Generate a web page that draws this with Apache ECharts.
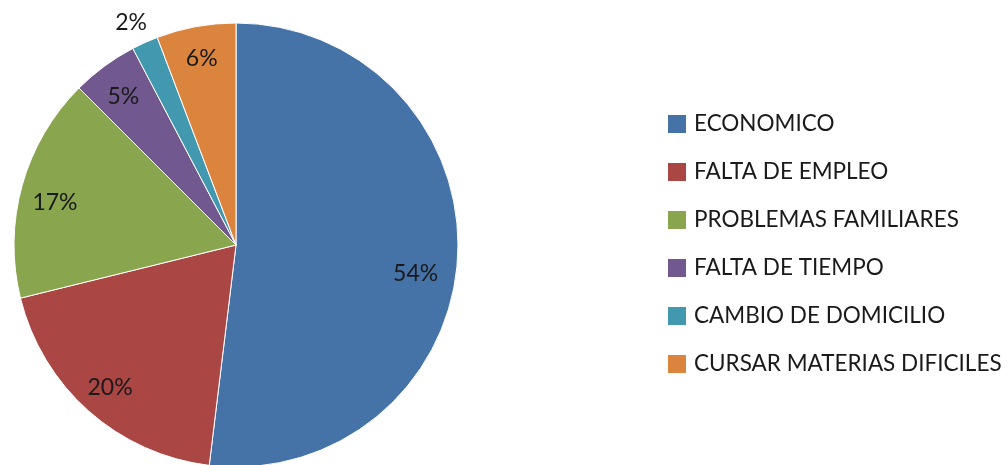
<!DOCTYPE html>
<html>
<head>
<meta charset="utf-8">
<script src="https://cdn.jsdelivr.net/npm/echarts@6/dist/echarts.min.js"></script>
<style>
html,body{margin:0;padding:0;background:#fff;}
#chart{width:1008px;height:465px;}
</style>
</head>
<body>
<div id="chart"></div>
<script>
var categories = ['ECONOMICO','FALTA DE EMPLEO','PROBLEMAS FAMILIARES','FALTA DE TIEMPO','CAMBIO DE DOMICILIO','CURSAR MATERIAS DIFICILES'];
var values = [54, 20, 17, 5, 2, 6];
var colors = ['#4572A7','#AA4643','#89A54E','#71588F','#4198AF','#DB843D'];
var outsideLabel = [false, false, false, false, true, false];

var FONT = 'Lato';
var FS = 23;

// small text nudges [dx, dy] to mimic Excel's best-fit label placement
var labelNudge = [[-10, 17], [0, 0], [2, 9], [0, 5], [-1, 8], [0, 0]];

function buildData(mode) {
  return categories.map(function (c, i) {
    var item = { name: c, value: values[i] };
    if (mode === 'pie') {
      item.itemStyle = { color: colors[i] };
    } else {
      var show = mode === 'inner' ? !outsideLabel[i] : outsideLabel[i];
      item.itemStyle = { color: 'rgba(0,0,0,0)', borderWidth: 0 };
      item.label = { show: show };
    }
    return item;
  });
}

function nudge(params) {
  var n = labelNudge[params.dataIndex] || [0, 0];
  return { dx: n[0], dy: n[1] };
}

var labelStyle = {
  position: 'inside',
  formatter: '{c}%',
  fontFamily: FONT,
  fontSize: FS,
  color: '#1a1a1a'
};

var chart = echarts.init(document.getElementById('chart'));
chart.setOption({
  animation: false,
  backgroundColor: '#fff',
  legend: {
    orient: 'vertical',
    left: 666,
    top: 112,
    padding: 0,
    icon: 'rect',
    itemWidth: 20,
    itemHeight: 20,
    itemGap: 24,
    selectedMode: false,
    textStyle: { fontFamily: FONT, fontSize: 22.5, color: '#1a1a1a', lineHeight: 24, padding: [0, 0, 0, 2] },
    data: categories
  },
  series: [
    {
      type: 'pie',
      center: [236, 245],
      radius: [0, 222],
      startAngle: 90,
      clockwise: true,
      avoidLabelOverlap: false,
      silent: true,
      label: { show: false },
      labelLine: { show: false },
      itemStyle: { borderColor: '#fff', borderWidth: 1 },
      data: buildData('pie')
    },
    {
      type: 'pie',
      center: [236, 245],
      radius: [152, 222],
      startAngle: 90,
      clockwise: true,
      avoidLabelOverlap: false,
      silent: true,
      label: labelStyle,
      labelLine: { show: false },
      labelLayout: nudge,
      data: buildData('inner')
    },
    {
      type: 'pie',
      center: [236, 245],
      radius: [228, 272],
      startAngle: 90,
      clockwise: true,
      avoidLabelOverlap: false,
      silent: true,
      label: labelStyle,
      labelLine: { show: false },
      labelLayout: nudge,
      data: buildData('outer')
    }
  ]
});
</script>
</body>
</html>
